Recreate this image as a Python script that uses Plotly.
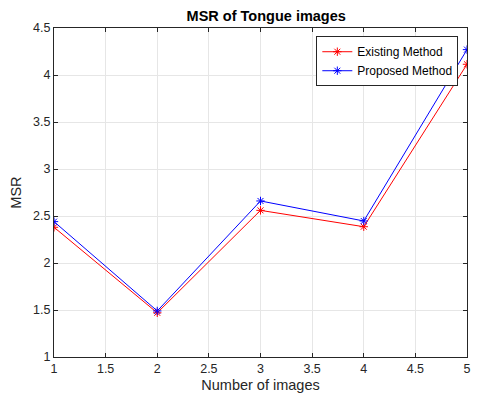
import plotly.graph_objects as go

x_vals = [1, 2, 3, 4, 5]
existing = [2.38, 1.47, 2.56, 2.386, 4.114]
proposed = [2.44, 1.49, 2.66, 2.447, 4.27]
x_ticks = [1, 1.5, 2, 2.5, 3, 3.5, 4, 4.5, 5]
y_ticks = [1, 1.5, 2, 2.5, 3, 3.5, 4, 4.5]

FONT = "Liberation Sans, Arial"

fig = go.Figure()
fig.add_trace(go.Scatter(x=x_vals, y=existing, mode="lines+markers", name="Existing Method",
                         line=dict(color="#ff0000", width=1),
                         marker=dict(symbol="asterisk-open", size=7, color="#ff0000",
                                     line=dict(color="#ff0000", width=1))))
fig.add_trace(go.Scatter(x=x_vals, y=proposed, mode="lines+markers", name="Proposed Method",
                         line=dict(color="#0000ff", width=1),
                         marker=dict(symbol="asterisk-open", size=7, color="#0000ff",
                                     line=dict(color="#0000ff", width=1))))

axis_common = dict(showline=True, linecolor="#262626", linewidth=1, mirror="ticks",
                   ticks="inside", ticklen=4, tickcolor="#262626",
                   showgrid=True, gridcolor="#e6e6e6", gridwidth=1, zeroline=False,
                   tickfont=dict(family=FONT, size=12.5, color="#262626"))

fig.update_layout(
    width=478, height=398,
    margin=dict(l=54, r=7, t=28, b=41),
    paper_bgcolor="white", plot_bgcolor="white",
    title=dict(text="<b>MSR of Tongue images</b>", x=0.557, xanchor="center", y=0.96, yanchor="middle",
               font=dict(family=FONT, size=14.5, color="#000000")),
    xaxis=dict(range=[1, 5], tickvals=x_ticks, ticktext=[f"{v:g}" for v in x_ticks],
               title=dict(text="Number of images", standoff=4,
                          font=dict(family=FONT, size=14.5, color="#262626")),
               **axis_common),
    yaxis=dict(range=[1, 4.5], tickvals=y_ticks, ticktext=[f"{v:g}" for v in y_ticks],
               title=dict(text="MSR", standoff=8,
                          font=dict(family=FONT, size=14.5, color="#262626")),
               **axis_common),
    legend=dict(x=0.979, xanchor="right", y=0.975, yanchor="top",
                bgcolor="white", bordercolor="#262626", borderwidth=1,
                font=dict(family=FONT, size=12, color="#000000"),
                tracegroupgap=0, itemwidth=30),
    showlegend=True,
)

fig.write_html("out.html")
